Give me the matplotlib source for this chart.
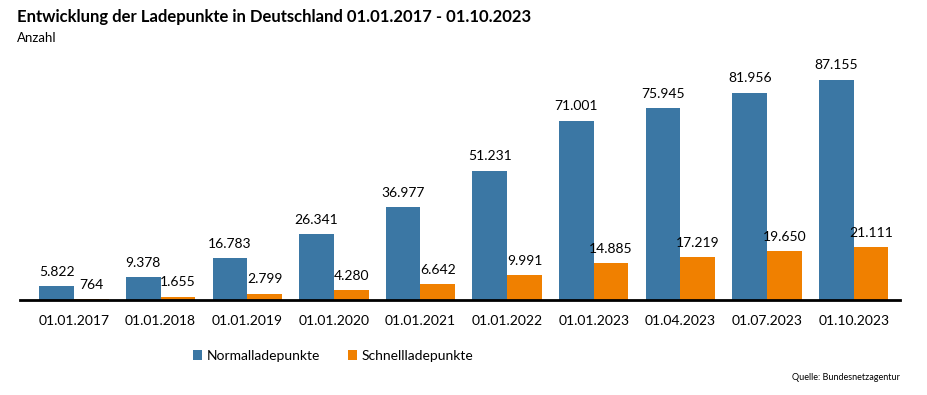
import matplotlib.pyplot as plt
import numpy as np

plt.rcParams['font.family'] = ['Lato', 'DejaVu Sans']

dates = ["01.01.2017", "01.01.2018", "01.01.2019", "01.01.2020", "01.01.2021",
         "01.01.2022", "01.01.2023", "01.04.2023", "01.07.2023", "01.10.2023"]
normal = [5822, 9378, 16783, 26341, 36977, 51231, 71001, 75945, 81956, 87155]
schnell = [764, 1655, 2799, 4280, 6642, 9991, 14885, 17219, 19650, 21111]

blue = "#3b77a4"
orange = "#f08000"

W, H = 927, 395
fig = plt.figure(figsize=(W / 100, H / 100), dpi=100)
ax = fig.add_axes([20 / W, 1 - 299.5 / H, 880 / W, 249.5 / H])

x = np.arange(len(dates))
w = 0.4
b1 = ax.bar(x - w / 2, normal, w, color=blue, label="Normalladepunkte")
b2 = ax.bar(x + w / 2, schnell, w, color=orange, label="Schnellladepunkte")

def fmt(v):
    return f"{v:,}".replace(",", ".")

for bars, vals in [(b1, normal), (b2, schnell)]:
    for r, v in zip(bars, vals):
        ax.annotate(fmt(v), (r.get_x() + r.get_width() / 2, v), xytext=(0, 6),
                    textcoords="offset points", ha="center", va="bottom", fontsize=10)

ax.set_xlim(-0.623, 9.535)
ax.set_ylim(511, 98780)
ax.set_xticks(x)
ax.set_xticklabels(dates, fontsize=10)
ax.tick_params(axis="x", length=0, pad=11)
ax.set_yticks([])
for s in ["top", "right", "left"]:
    ax.spines[s].set_visible(False)
ax.spines["bottom"].set_linewidth(2)

fig.text(17 / W, 1 - 17 / H, "Entwicklung der Ladepunkte in Deutschland 01.01.2017 - 01.10.2023",
         fontsize=12, fontweight="bold", va="center")
fig.text(17 / W, 1 - 38 / H, "Anzahl", fontsize=9.5, va="center")

fig.legend(handles=[b1, b2], loc="center left", bbox_to_anchor=(180 / W, 1 - 356 / H),
           ncol=2, frameon=False, fontsize=10, handlelength=0.7, handleheight=0.7,
           handletextpad=0.3, columnspacing=2.0)
fig.text(900 / W, 1 - 378 / H, "Quelle: Bundesnetzagentur", fontsize=6.5, ha="right", va="center")

fig.savefig("out.png", dpi=100)
